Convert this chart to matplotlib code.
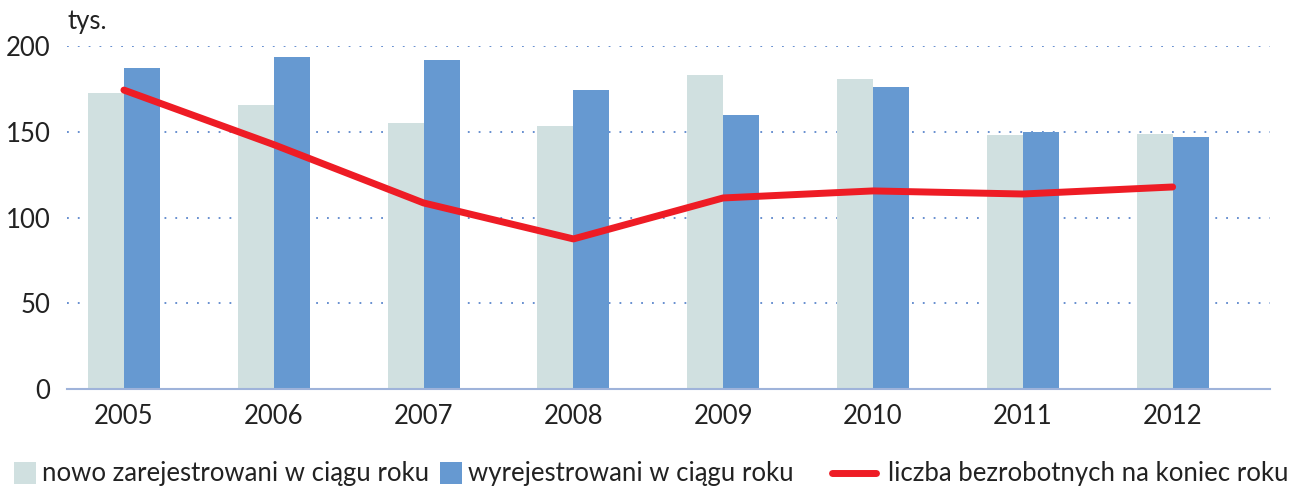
import matplotlib.pyplot as plt
from matplotlib.patches import Rectangle
from matplotlib.lines import Line2D
import numpy as np

plt.rcParams['font.family'] = ['Lato', 'DejaVu Sans']

years = ['2005', '2006', '2007', '2008', '2009', '2010', '2011', '2012']
registered = [172.6, 165.6, 155.1, 153.4, 183.1, 180.8, 148.1, 148.7]
deregistered = [187.2, 193.6, 191.8, 174.3, 159.8, 176.1, 149.9, 146.9]
unemployed = [174.3, 142.5, 108.5, 87.5, 111.4, 115.5, 113.7, 117.8]

legend_labels = ['nowo zarejestrowani w ciągu roku',
                 'wyrejestrowani w ciągu roku',
                 'liczba bezrobotnych na koniec roku']

LIGHT = '#d0e0e0'
BLUE = '#6699d1'
RED = '#ee1c25'
TXT = '#222222'
W, H = 1290, 487

fig = plt.figure(figsize=(W / 100, H / 100), dpi=100)
ax = fig.add_axes([67 / W, 1 - 389 / H, 1203 / W, 343 / H])

x = np.arange(len(years))
w = 0.24
ax.bar(x - w / 2, registered, w, color=LIGHT, zorder=2)
ax.bar(x + w / 2, deregistered, w, color=BLUE, zorder=2)
ax.plot(x, unemployed, color=RED, lw=5, solid_capstyle='round',
        solid_joinstyle='round', zorder=3)

ax.set_xlim(-0.38, 7.65)
ax.set_ylim(0, 200)
ax.set_yticks([0, 50, 100, 150, 200])
ax.set_xticks(x)
ax.set_xticklabels(years)
ax.yaxis.grid(True, linestyle=(0, (1, 5)), color='#5b86cc', lw=1.3, zorder=0)
for s in ['top', 'right', 'left']:
    ax.spines[s].set_visible(False)
ax.spines['bottom'].set_color('#9fb3da')
ax.spines['bottom'].set_linewidth(1.5)
ax.tick_params(axis='both', length=0, labelsize=18.5, colors=TXT)
ax.tick_params(axis='x', pad=11)
ax.tick_params(axis='y', pad=12)

fig.text(68 / W, 1 - 22 / H, 'tys.', fontsize=18.5, color=TXT,
         va='center', ha='left')

# legend drawn by hand to get the handle sizes right
ly = 1 - 473 / H
fig.patches.append(Rectangle((14 / W, 1 - 484 / H), 22 / W, 22 / H,
                             facecolor=LIGHT, transform=fig.transFigure))
fig.text(42 / W, ly, legend_labels[0], fontsize=18.5, color=TXT, va='center')
fig.patches.append(Rectangle((440 / W, 1 - 484 / H), 22 / W, 22 / H,
                             facecolor=BLUE, transform=fig.transFigure))
fig.text(468 / W, ly, legend_labels[1], fontsize=18.5, color=TXT, va='center')
fig.lines.append(Line2D([832 / W, 876 / W], [ly, ly], color=RED, lw=5,
                        solid_capstyle='round', transform=fig.transFigure))
fig.text(888 / W, ly, legend_labels[2], fontsize=18.5, color=TXT, va='center')

fig.savefig('out.png', dpi=100)
